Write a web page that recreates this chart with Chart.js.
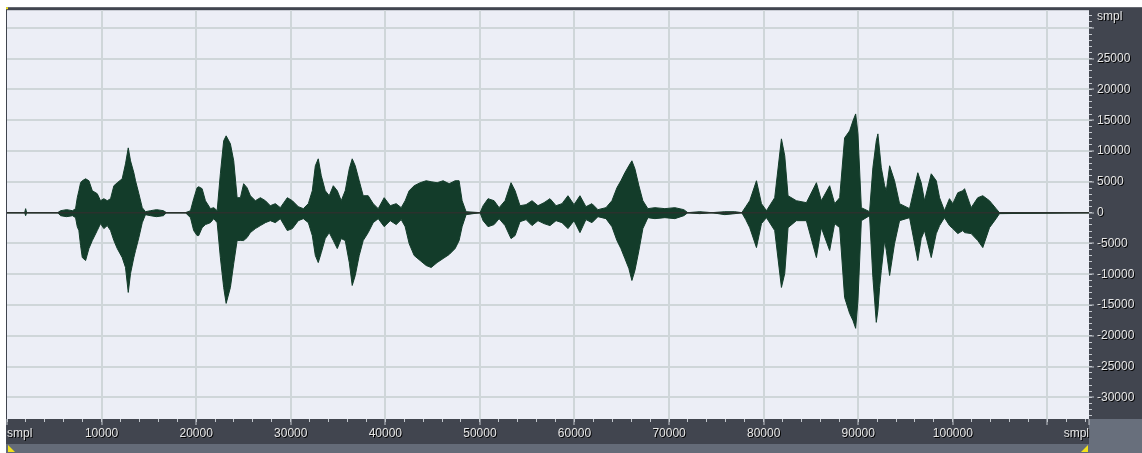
<!DOCTYPE html>
<html>
<head>
<meta charset="utf-8">
<title>Waveform</title>
<script src="https://cdn.jsdelivr.net/npm/chart.js@4.4.1/dist/chart.umd.min.js"></script>
<style>
    html, body { margin: 0; padding: 0; background: #fff; }
    canvas { display: block; }
</style>
</head>
<body>
<canvas id="wave" width="1142" height="453"></canvas>
<script>
// ---------------- WAVEFORM PEAKS ----------------
// sample index, positive peak, negative peak (16-bit amplitude)
const samplePos = [
    0, 1870, 1970, 2080, 5350, 5670, 6300, 6930, 7250, 7430,
    7600, 7780, 7960, 8310, 8660, 9020, 9540, 9890, 10240, 10600,
    10950, 11300, 11660, 12180, 12530, 12820, 13060, 13410, 13590, 13940,
    14300, 14640, 15170, 15810, 16540, 16860, 18870, 19400, 19740, 20100,
    20270, 20630, 20980, 21510, 21860, 22220, 22560, 22910, 23170, 23620,
    23970, 24330, 24680, 25020, 25380, 25730, 26260, 26790, 27320, 27840,
    28370, 28900, 29640, 30170, 30800, 31330, 31860, 32280, 32600, 32910,
    33230, 33650, 34070, 34500, 34920, 35340, 35760, 36190, 36500, 36820,
    37240, 37660, 38190, 38720, 39250, 39880, 40520, 41150, 41680, 42100,
    42520, 43050, 43680, 44320, 44850, 45480, 46110, 46750, 47380, 47800,
    48120, 48540, 50020, 50340, 50860, 51500, 52030, 52660, 53290, 53720,
    54240, 54880, 55510, 56140, 56780, 57410, 58050, 58680, 59310, 59950,
    60580, 61210, 61850, 62480, 63330, 63960, 64490, 64910, 65330, 65750,
    66070, 66390, 66810, 67230, 67760, 68500, 69560, 70610, 71560, 71980,
    73250, 74520, 75890, 76950, 77690, 78110, 78530, 79240, 79770, 80300,
    81170, 81880, 82230, 82580, 83460, 84520, 85580, 86100, 86980, 87510,
    88040, 88560, 89090, 89440, 89730, 89970, 90330, 91200, 91550, 91910,
    92080, 92260, 92440, 92790, 92970, 93320, 93840, 94370, 95430, 96300,
    96660, 97010, 97720, 98250, 98600, 99120, 99650, 100000, 100530, 101060,
    101240, 101940, 102640, 103170, 103880, 104580, 104930, 114400
];

const peakHigh = [
    0, 0, 650, 0, 0, 320, 490, 320, 650, 2430,
    3560, 4860, 5180, 5500, 5180, 3560, 3080, 1940, 2270, 1940,
    2270, 4370, 4860, 5500, 7930, 10520, 8420, 6480, 5180, 3080,
    810, 160, 320, 490, 320, 0, 0, 320, 2270, 4050,
    4210, 3890, 1940, 650, 810, 320, 6310, 11660, 12470, 11170,
    8420, 2430, 2430, 4700, 4050, 2750, 1940, 2430, 1940, 1130,
    1460, 810, 2430, 1940, 970, 650, 1460, 3560, 7610, 8740,
    5990, 3560, 2750, 4370, 3560, 1940, 3560, 7120, 8740, 7610,
    5180, 2750, 2750, 1460, 650, 2430, 1130, 1460, 810, 1940,
    3560, 4370, 4860, 5180, 5020, 4860, 5180, 4700, 5180, 5180,
    1940, 160, 0, 1130, 2270, 1940, 810, 1940, 4860, 3560,
    1130, 1300, 1940, 1130, 1620, 2270, 1130, 1460, 2750, 1300,
    2750, 970, 1460, 490, 810, 1940, 4050, 5180, 6480, 7610,
    8420, 7120, 4370, 1940, 650, 810, 650, 810, 490, 0,
    160, 0, 160, 160, 0, 970, 1940, 5180, 1460, 320,
    2430, 11980, 9230, 2750, 1940, 1620, 4860, 1940, 4370, 1460,
    2430, 12140, 13280, 14890, 16030, 12790, 810, 160, 7290, 11660,
    12790, 10040, 7290, 4370, 3560, 7610, 5180, 1460, 650, 6480,
    4860, 1940, 6310, 5180, 2430, 320, 2270, 1460, 3240, 3560,
    3890, 810, 2430, 2750, 1940, 650, 0, 0
];

const peakLow = [
    0, 0, -490, 0, 0, -490, -650, -490, -810, -2270,
    -2910, -5340, -7290, -7770, -5830, -4530, -2910, -1780, -2590, -2100,
    -2910, -4530, -5830, -7290, -8900, -12950, -9880, -7290, -6150, -4050,
    -1620, -320, -490, -650, -490, 0, 0, -810, -2910, -3720,
    -3720, -2430, -1940, -1620, -970, -1620, -7290, -12140, -14730, -12140,
    -8260, -4530, -4530, -4530, -4050, -3240, -2590, -2100, -1620, -1300,
    -1620, -970, -2910, -2590, -1300, -970, -1620, -3720, -6960, -8100,
    -6480, -4210, -3240, -4530, -5830, -4210, -4530, -8100, -11820, -10200,
    -6960, -4530, -3240, -1620, -970, -2270, -1300, -1940, -1130, -2270,
    -5020, -6960, -7770, -8580, -8900, -8100, -7450, -6800, -5830, -4530,
    -2270, -320, 0, -1300, -2270, -1940, -970, -2100, -4210, -3720,
    -1460, -1130, -2100, -1300, -1780, -2100, -1300, -1620, -2590, -1300,
    -3240, -1130, -1620, -650, -970, -2270, -4530, -5830, -7450, -9070,
    -11010, -9390, -6150, -2590, -810, -970, -810, -970, -490, 0,
    -160, 0, -320, -160, 0, -1130, -2430, -5670, -1780, -810,
    -2910, -12140, -9880, -2430, -1300, -1300, -7290, -2430, -6150, -1780,
    -2430, -13760, -16350, -17490, -18780, -14250, -1300, -490, -10520, -17810,
    -15870, -12140, -9390, -4530, -6150, -10200, -5020, -1300, -810, -7770,
    -4210, -2910, -7290, -3400, -2100, -810, -2100, -2590, -3400, -2910,
    -3240, -3400, -4530, -5670, -2430, -970, -160, 0
];

// ---------------- AXES ----------------
const sampleEnd = 114400;
const ampMin = -33500;
const ampMax = 32870;
const xLabelStep = 10000;
const xMinorStep = 2000;
const yLabelStep = 5000;
const yLabelMax = 30000;
const yMinorStep = 1000;
const unitLabel = "smpl";

// ---------------- COLOURS ----------------
const waveColor = "#133c2a";
const zeroColor = "#2b312d";
const plotBg = "#eceef6";
const gridColor = "#cfd6d9";
const panelColor = "#41454f";
const stripColor = "#646b78";
const cornerColor = "#686f7c";
const tickMarkColor = "#c4c8ce";
const labelColor = "#e6e6e6";
const markerColor = "#f2e21c";
const labelFont = { family: "'Liberation Sans', Arial, sans-serif", size: 12 };

function stepValues(from, to, step) {
    const out = [];
    for (let v = Math.ceil(from / step) * step; v <= to; v += step) out.push(v);
    return out;
}

const xMajor = stepValues(0, sampleEnd, xLabelStep).concat([sampleEnd]);
const xMinor = stepValues(0, sampleEnd, xMinorStep);
const yMajor = stepValues(-yLabelMax, yLabelMax, yLabelStep);
const yMinor = stepValues(ampMin, ampMax, yMinorStep);

const highPoints = samplePos.map((s, i) => ({ x: s, y: peakHigh[i] }));
const lowPoints = samplePos.map((s, i) => ({ x: s, y: peakLow[i] }));
const zeroPoints = [
    { x: samplePos[0], y: 0 },
    { x: samplePos[samplePos.length - 1], y: 0 }
];

// ---------------- EDITOR FRAME ----------------
const editorFrame = {
    id: "editorFrame",
    beforeDraw(chart) {
        const { ctx, width, height } = chart;
        const a = chart.chartArea;
        const xs = chart.scales.x;
        ctx.save();
        ctx.fillStyle = "#ffffff";
        ctx.fillRect(0, 0, width, height);
        ctx.fillStyle = panelColor;
        ctx.fillRect(a.left - 1, a.top - 3, width, height);
        ctx.fillStyle = stripColor;
        ctx.fillRect(a.left - 1, xs.bottom - 9, a.right - a.left + 1, 9);
        ctx.fillStyle = cornerColor;
        ctx.fillRect(a.right, a.bottom, width - a.right, height - a.bottom);
        ctx.fillStyle = plotBg;
        ctx.fillRect(a.left, a.top, a.right - a.left, a.bottom - a.top);
        ctx.restore();
    },
    // tick labels are drawn after this hook (ticks.z = 1), so they pick up the shadow
    afterDatasetsDraw(chart) {
        const ctx = chart.ctx;
        ctx.shadowColor = "#000000";
        ctx.shadowOffsetX = 1;
        ctx.shadowOffsetY = 1;
        ctx.shadowBlur = 0;
    },
    afterDraw(chart) {
        const { ctx, height } = chart;
        const a = chart.chartArea;
        const ys = chart.scales.y;

        ctx.save();
        ctx.font = `${labelFont.size}px ${labelFont.family}`;
        ctx.fillStyle = labelColor;
        ctx.textAlign = "left";
        ctx.textBaseline = "middle";
        ctx.fillText(unitLabel, ys.left + 8, a.top + 6);
        ctx.restore();

        ctx.shadowColor = "rgba(0,0,0,0)";
        ctx.shadowOffsetX = 0;
        ctx.shadowOffsetY = 0;

        // start / end markers
        ctx.save();
        ctx.fillStyle = markerColor;
        ctx.fillRect(a.left - 1, a.top - 3, 2, 2);
        ctx.beginPath();
        ctx.moveTo(a.left + 1, height - 8);
        ctx.lineTo(a.left + 8, height - 1);
        ctx.lineTo(a.left + 1, height - 1);
        ctx.closePath();
        ctx.fill();
        ctx.beginPath();
        ctx.moveTo(a.right - 1, height - 8);
        ctx.lineTo(a.right - 1, height - 1);
        ctx.lineTo(a.right - 8, height - 1);
        ctx.closePath();
        ctx.fill();
        ctx.restore();
    }
};

// ---------------- CHART ----------------
new Chart(document.getElementById("wave"), {
    type: "line",
    data: {
        datasets: [
            {
                data: highPoints,
                borderColor: waveColor,
                backgroundColor: waveColor,
                borderWidth: 1,
                pointRadius: 0,
                tension: 0,
                fill: "+1",
                order: 1
            },
            {
                data: lowPoints,
                borderColor: waveColor,
                backgroundColor: waveColor,
                borderWidth: 1,
                pointRadius: 0,
                tension: 0,
                fill: false,
                order: 1
            },
            {
                data: zeroPoints,
                borderColor: zeroColor,
                borderWidth: 1.5,
                pointRadius: 0,
                fill: false,
                order: 0
            }
        ]
    },
    options: {
        responsive: false,
        animation: false,
        devicePixelRatio: 1,
        events: [],
        layout: { padding: { left: 7, top: 9, right: 0, bottom: 0 } },
        plugins: {
            legend: { display: false },
            tooltip: { enabled: false }
        },
        scales: {
            x: {
                type: "linear",
                position: "bottom",
                weight: 1,
                min: 0,
                max: sampleEnd,
                afterBuildTicks: s => { s.ticks = xMajor.map(v => ({ value: v })); },
                afterFit: s => { s.height = 34; },
                border: { display: false },
                grid: {
                    color: c => (c.tick && (c.tick.value === 0 || c.tick.value === sampleEnd))
                        ? "rgba(0,0,0,0)" : gridColor,
                    lineWidth: 2,
                    tickLength: 6,
                    tickWidth: 1,
                    tickColor: tickMarkColor
                },
                ticks: {
                    autoSkip: false,
                    maxRotation: 0,
                    align: "inner",
                    padding: 1,
                    z: 1,
                    color: labelColor,
                    font: labelFont,
                    callback: (v, i, t) => {
                        if (i === 0 || i === t.length - 1) return unitLabel;
                        return v + xLabelStep > sampleEnd ? "" : String(v);
                    }
                }
            },
            xMinor: {
                type: "linear",
                position: "bottom",
                weight: 0,
                min: 0,
                max: sampleEnd,
                afterBuildTicks: s => { s.ticks = xMinor.map(v => ({ value: v })); },
                afterFit: s => { s.height = 0; },
                border: { display: false },
                grid: {
                    drawOnChartArea: false,
                    tickLength: 3,
                    tickWidth: 1,
                    tickColor: tickMarkColor
                },
                ticks: { display: false }
            },
            y: {
                type: "linear",
                position: "right",
                weight: 1,
                min: ampMin,
                max: ampMax,
                afterBuildTicks: s => { s.ticks = yMajor.map(v => ({ value: v })); },
                afterFit: s => { s.width = 53; },
                border: { display: false },
                grid: {
                    color: gridColor,
                    lineWidth: 2,
                    tickLength: 5,
                    tickWidth: 1,
                    tickColor: tickMarkColor
                },
                ticks: {
                    autoSkip: false,
                    padding: 3,
                    z: 1,
                    color: labelColor,
                    font: labelFont,
                    callback: v => (v === yLabelMax ? "" : String(v))
                }
            },
            yMinor: {
                type: "linear",
                position: "right",
                weight: 0,
                min: ampMin,
                max: ampMax,
                afterBuildTicks: s => { s.ticks = yMinor.map(v => ({ value: v })); },
                afterFit: s => { s.width = 0; },
                border: { display: false },
                grid: {
                    drawOnChartArea: false,
                    tickLength: 3,
                    tickWidth: 1,
                    tickColor: tickMarkColor
                },
                ticks: { display: false }
            }
        }
    },
    plugins: [editorFrame]
});
</script>
</body>
</html>
